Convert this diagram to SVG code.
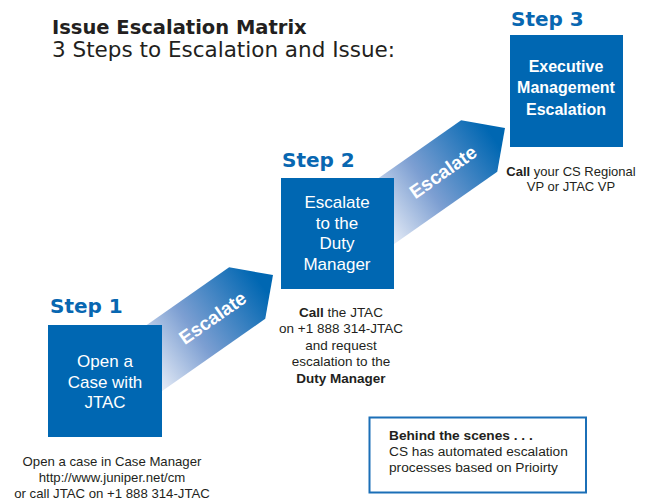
<svg xmlns="http://www.w3.org/2000/svg" width="650" height="501" viewBox="0 0 650 501">
  <defs>
    <!-- fade of the escalation arrows, in the arrow's own rotated frame -->
    <linearGradient id="arrowFade" gradientUnits="userSpaceOnUse" x1="-165" y1="0" x2="-15" y2="0">
      <stop offset="0" stop-color="#f2f5fb"/>
      <stop offset="0.45" stop-color="#7d9fd2"/>
      <stop offset="1" stop-color="#0067b2"/>
    </linearGradient>
    <!-- pentagon arrow: tip at origin, pointing along +x -->
    <polygon id="arrowShape" points="0,0 -31.5,-31.5 -170,-31.5 -170,31.5 -31.5,31.5"/>
  </defs>
  <style>
    .title { font-family: "DejaVu Sans", sans-serif; font-weight: bold; font-size: 19.5px; fill: #231f20; }
    .subtitle { font-family: "DejaVu Sans", sans-serif; font-size: 21.5px; fill: #231f20; }
    .step { font-family: "DejaVu Sans", sans-serif; font-weight: bold; font-size: 20px; fill: #0867b1; }
    .box { fill: #0067b2; }
    .boxText { font-family: "Liberation Sans", Arial, sans-serif; font-size: 17px; fill: #ffffff; text-anchor: middle; }
    .boxTextBold { font-family: "Liberation Sans", Arial, sans-serif; font-weight: bold; font-size: 16px; fill: #ffffff; text-anchor: middle; }
    .desc { font-family: "Liberation Sans", Arial, sans-serif; font-size: 13.5px; fill: #231f20; text-anchor: middle; }
    .b { font-weight: bold; }
    .arrowLabel { font-family: "Liberation Sans", Arial, sans-serif; font-weight: bold; font-size: 19px; fill: #ffffff; text-anchor: middle; }
    .note { fill: #ffffff; stroke: #1b6fb7; stroke-width: 2; }
    .noteText { font-family: "Liberation Sans", Arial, sans-serif; font-size: 13.7px; fill: #231f20; }
  </style>

  <rect width="650" height="501" fill="#ffffff"/>

  <g id="title">
    <text class="title" x="52" y="34">Issue Escalation Matrix</text>
    <text class="subtitle" x="52" y="57">3 Steps to Escalation and Issue:</text>
  </g>

  <!-- escalation arrows between the steps -->
  <g id="connectors">
    <g id="escalate-1-2" transform="translate(273,275) rotate(-35)">
      <use href="#arrowShape" fill="url(#arrowFade)"/>
      <text class="arrowLabel" x="-74" y="7">Escalate</text>
    </g>
    <g id="escalate-2-3" transform="translate(505,128) rotate(-35)">
      <use href="#arrowShape" fill="url(#arrowFade)"/>
      <text class="arrowLabel" x="-76" y="7">Escalate</text>
    </g>
  </g>

  <g id="step1">
    <text class="step" x="50" y="313">Step 1</text>
    <rect class="box" x="48" y="325" width="114" height="112"/>
    <text class="boxText" x="105" y="367">Open a</text>
    <text class="boxText" x="105" y="388">Case with</text>
    <text class="boxText" x="105" y="408">JTAC</text>
    <g style="font-size:13.2px">
      <text class="desc" x="112" y="466" style="font-size:13.2px">Open a case in Case Manager</text>
      <text class="desc" x="112" y="482" style="font-size:13.2px">http://www.juniper.net/cm</text>
      <text class="desc" x="112" y="498" style="font-size:13.2px">or call JTAC on +1 888 314-JTAC</text>
    </g>
  </g>

  <g id="step2">
    <text class="step" x="282" y="167">Step 2</text>
    <rect class="box" x="281" y="178" width="113" height="111"/>
    <text class="boxText" x="337" y="208">Escalate</text>
    <text class="boxText" x="337" y="228.5">to the</text>
    <text class="boxText" x="337" y="249.3">Duty</text>
    <text class="boxText" x="337" y="270">Manager</text>
    <text class="desc" x="341" y="316.7"><tspan class="b">Call</tspan> the JTAC</text>
    <text class="desc" x="341" y="333.3">on +1 888 314-JTAC</text>
    <text class="desc" x="341" y="349.5">and request</text>
    <text class="desc" x="341" y="366">escalation to the</text>
    <text class="desc b" x="341" y="382.7">Duty Manager</text>
  </g>

  <g id="step3">
    <text class="step" x="511" y="25.5">Step 3</text>
    <rect class="box" x="510" y="35" width="113" height="112"/>
    <text class="boxTextBold" x="566" y="71.5">Executive</text>
    <text class="boxTextBold" x="566" y="93.3">Management</text>
    <text class="boxTextBold" x="566" y="115">Escalation</text>
    <text class="desc" x="571" y="175.7" style="font-size:13px"><tspan class="b">Call</tspan> your CS Regional</text>
    <text class="desc" x="571" y="190.7" style="font-size:13px">VP or JTAC VP</text>
  </g>

  <g id="behind-the-scenes">
    <rect class="note" x="369.5" y="417.5" width="216.5" height="75"/>
    <text class="noteText b" x="389" y="440">Behind the scenes . . .</text>
    <text class="noteText" x="389" y="455.7">CS has automated escalation</text>
    <text class="noteText" x="389" y="471.7">processes based on Prioirty</text>
  </g>
</svg>
